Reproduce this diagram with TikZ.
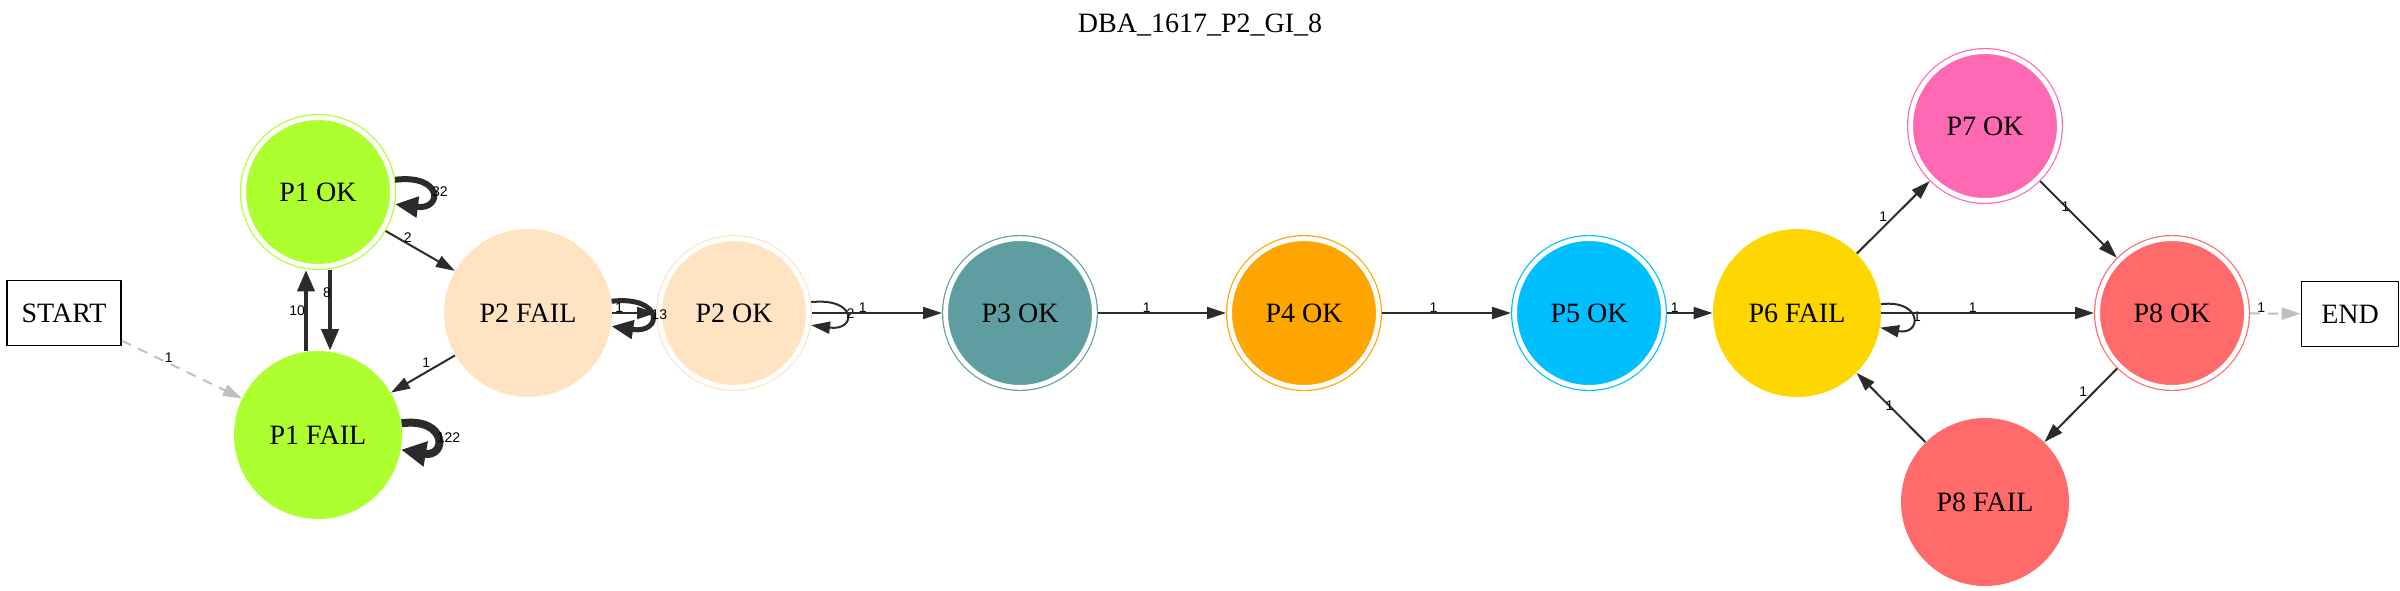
\documentclass[tikz,border=0pt]{standalone}
\usepackage{fontspec}
\setmainfont{Liberation Serif}
\newfontfamily\lblfont{Liberation Sans}
\usetikzlibrary{arrows.meta}
\definecolor{edgegray}{HTML}{2B2B2B}
\definecolor{dashgray}{HTML}{C0C0C0}
\definecolor{pone}{HTML}{ADFF2F}
\definecolor{ptwo}{HTML}{FFE4C4}
\definecolor{pthree}{HTML}{5F9EA0}
\definecolor{pfour}{HTML}{FFA500}
\definecolor{pfive}{HTML}{00BFFF}
\definecolor{psix}{HTML}{FFD700}
\definecolor{pseven}{HTML}{FF69B4}
\definecolor{peight}{HTML}{FF6A6A}
\begin{document}
\begin{tikzpicture}[x=0.5pt, y=-0.5pt, line join=round,
  failnode/.style={circle, fill=#1, inner sep=0pt, minimum size=84pt, font=\fontsize{14}{16}\selectfont},
  oknode/.style={failnode=#1, draw=#1, line width=0.6pt, double=white, double distance=2.4pt, minimum size=74.4pt, outer sep=1.8pt},
  termbox/.style={draw, line width=0.8pt, minimum height=32.5pt, inner sep=0pt, font=\fontsize{14}{16}\selectfont},
  trans/.style={draw=edgegray, line width=#1, -{Triangle[length=8.5pt 1, width=4pt 2]}},
  trans/.default=1pt,
  faint/.style={draw=dashgray, dash pattern=on 5pt off 4pt},
  lbl/.style={font=\lblfont\fontsize{7}{8}\selectfont, text=black, inner sep=0.5pt, outer sep=0pt}]
\useasboundingbox (0,0) rectangle (2400,590);
\node[font=\fontsize{14}{16}\selectfont] (title) at (1200,25) {DBA\_1617\_P2\_GI\_8};
\node[termbox, minimum width=57pt] (start) at (64,313) {START};
\node[oknode=pone] (p1ok) at (318,192) {P1 OK};
\node[failnode=pone] (p1fail) at (318,435) {P1 FAIL};
\node[failnode=ptwo] (p2fail) at (528,313) {P2 FAIL};
\node[oknode=ptwo] (p2ok) at (734,313) {P2 OK};
\node[oknode=pthree] (p3ok) at (1020,313) {P3 OK};
\node[oknode=pfour] (p4ok) at (1304,313) {P4 OK};
\node[oknode=pfive] (p5ok) at (1589,313) {P5 OK};
\node[failnode=psix] (p6fail) at (1797,313) {P6 FAIL};
\node[oknode=pseven] (p7ok) at (1985,126) {P7 OK};
\node[oknode=peight] (p8ok) at (2172,313) {P8 OK};
\node[failnode=peight] (p8fail) at (1985,502) {P8 FAIL};
\node[termbox, minimum width=48.5pt] (finish) at (2350,314) {END};
\draw[trans, faint] (start) -- node[lbl, above, pos=0.39] (lstart) {1} (p1fail);
\draw[trans=3pt] (p1ok.9) .. controls +(48,-6) and +(48,6) .. node[lbl, right=0pt, pos=0.5] (lloopa) {32} (p1ok.-9);
\draw[trans=4pt] (p1fail.8) .. controls +(46,-6) and +(46,8) .. node[lbl, right=0pt, pos=0.5] (lloopb) {122} (p1fail.-10);
\draw[trans=2.2pt] ([xshift=6pt]p1ok.south) -- node[lbl, left=-1pt, pos=0.28] (ldown) {8} ([xshift=6pt]p1fail.north);
\draw[trans=2.2pt] ([xshift=-6pt]p1fail.north) -- node[lbl, left=0pt, pos=0.5] (lup) {10} ([xshift=-6pt]p1ok.south);
\draw[trans] (p1ok) -- node[lbl, above, pos=0.32] (lpa) {2} (p2fail);
\draw[trans] (p2fail) -- node[lbl, above=2pt, pos=0.45] (lpb) {1} (p1fail);
\draw[trans=2.5pt] (p2fail.8) .. controls +(52,-6) and +(52,8) .. node[lbl, right=0pt, pos=0.5] (lloopc) {13} (p2fail.-9);
\draw[trans] (p2fail) -- node[lbl, above, pos=0.16] (lpc) {1} (p2ok);
\draw[trans] (p2ok.8) .. controls +(46,-5) and +(46,6) .. node[lbl, right=0pt, pos=0.5] (lloopd) {2} (p2ok.-9);
\draw[trans] (p2ok) -- node[lbl, above, pos=0.39] (lpd) {1} (p3ok);
\draw[trans] (p3ok) -- node[lbl, above, pos=0.38] (lpe) {1} (p4ok);
\draw[trans] (p4ok) -- node[lbl, above, pos=0.40] (lpf) {1} (p5ok);
\draw[trans] (p5ok) -- node[lbl, above, pos=0.17] (lpg) {1} (p6fail);
\draw[trans] (p6fail.6) .. controls +(42,-5) and +(42,8) .. node[lbl, right=0pt, pos=0.5] (lloope) {1} (p6fail.-10);
\draw[trans] (p6fail) -- node[lbl, above, pos=0.43] (lph) {1} (p8ok);
\draw[trans] (p6fail) -- node[lbl, above left=0pt, pos=0.43] (lpi) {1} (p7ok);
\draw[trans] (p7ok) -- node[lbl, pos=0.33] (lpj) {1} (p8ok);
\draw[trans] (p8ok) -- node[lbl, above left=0pt, pos=0.40] (lpk) {1} (p8fail);
\draw[trans] (p8fail) -- node[lbl, pos=0.52] (lpl) {1} (p6fail);
\draw[trans, faint] (p8ok) -- node[lbl, above, pos=0.22] (lend) {1} (finish);
\end{tikzpicture}
\end{document}
